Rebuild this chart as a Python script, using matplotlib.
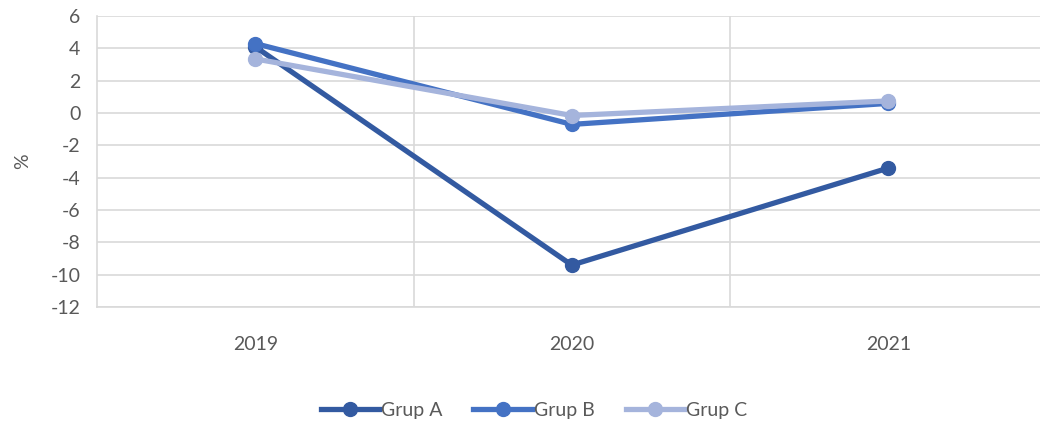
import matplotlib.pyplot as plt

years = ["2019", "2020", "2021"]
grup_a = [4.1, -9.4, -3.4]
grup_b = [4.3, -0.7, 0.6]
grup_c = [3.35, -0.15, 0.75]

plt.rcParams['font.family'] = ['Lato', 'DejaVu Sans']
plt.rcParams['axes.unicode_minus'] = False

fig = plt.figure(figsize=(10.4, 4.23), dpi=100)
ax = fig.add_axes([0.0933, 0.274, 0.913, 0.688])

x = list(range(len(years)))
ax.plot(x, grup_a, marker='o', color='#335AA1', lw=3.8, ms=10, label='Grup A', zorder=3)
ax.plot(x, grup_b, marker='o', color='#4472C4', lw=3.8, ms=10, label='Grup B', zorder=4)
ax.plot(x, grup_c, marker='o', color='#A5B4DC', lw=3.8, ms=10, label='Grup C', zorder=5)

ax.set_xlim(-0.5, 2.5)
ax.set_ylim(-12, 6)
ax.set_yticks(range(-12, 7, 2))
ax.set_xticks(x)
ax.set_xticklabels(years)
ax.set_xticks([0.5, 1.5], minor=True)
ax.grid(True, axis='y', color='#D9D9D9', lw=1.2)
ax.grid(True, axis='x', which='minor', color='#D9D9D9', lw=1.2)
ax.set_axisbelow(True)

for side in ['top', 'right']:
    ax.spines[side].set_visible(False)
for side in ['left', 'bottom']:
    ax.spines[side].set_color('#D9D9D9')
    ax.spines[side].set_linewidth(1.2)

ax.tick_params(axis='both', which='both', length=0, labelsize=14, labelcolor='#595959')
ax.tick_params(axis='x', pad=21)
ax.tick_params(axis='y', pad=12)
ax.set_ylabel('%', fontsize=14, color='#595959', labelpad=14)

ax.legend(loc='upper center', bbox_to_anchor=(0.46, -0.265), ncol=3, frameon=False,
          fontsize=14, labelcolor='#595959', handlelength=3.0, handletextpad=0.1,
          columnspacing=1.6)

fig.savefig('out.png', dpi=100)
